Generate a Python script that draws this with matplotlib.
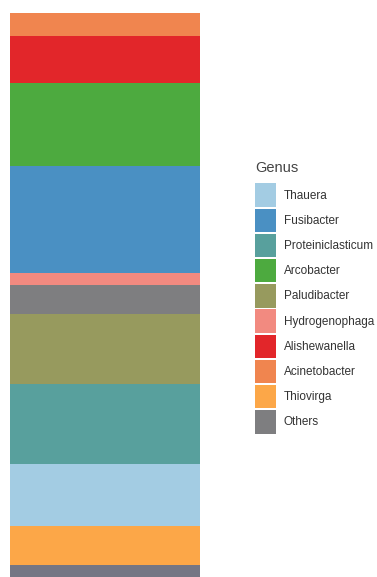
import matplotlib
matplotlib.use("Agg")
import matplotlib.pyplot as plt
from matplotlib.patches import Patch

plt.rcParams["font.family"] = ["Liberation Sans", "DejaVu Sans"]

# relative abundance (%) of one sample, stacked bottom -> top
genera = ["NA", "Thiovirga", "Thauera", "Proteiniclasticum", "Paludibacter",
          "Others", "Hydrogenophaga", "Fusibacter", "Arcobacter",
          "Alishewanella", "Acinetobacter"]
abund = [2.2, 6.9, 11.0, 14.2, 12.4, 5.1, 2.1, 19.0, 14.7, 8.3, 4.1]

legend_order = ["Thauera", "Fusibacter", "Proteiniclasticum", "Arcobacter",
                "Paludibacter", "Hydrogenophaga", "Alishewanella",
                "Acinetobacter", "Thiovirga", "Others"]

COLORS = {
    "Thauera": "#a3cce3", "Fusibacter": "#4a90c3", "Proteiniclasticum": "#58a09d",
    "Arcobacter": "#4daa3f", "Paludibacter": "#979a5e", "Hydrogenophaga": "#f28a80",
    "Alishewanella": "#e2262a", "Acinetobacter": "#f0854f", "Thiovirga": "#fca748",
    "Others": "#7e7e80", "NA": "#747684",
}

W, H = 377, 577
fig = plt.figure(figsize=(W / 100, H / 100), dpi=100)
ax = fig.add_axes([10 / W, 0, 190 / W, 564 / H])

bottom = 0
for g, v in zip(genera, abund):
    ax.bar(0, v, width=1, bottom=bottom, color=COLORS[g], linewidth=0)
    bottom += v
ax.set_xlim(-0.5, 0.5)
ax.set_ylim(0, sum(abund))
ax.axis("off")

handles = [Patch(facecolor=COLORS[g], edgecolor="none", label=g) for g in legend_order]
leg = fig.legend(handles=handles, title="Genus", loc="upper left",
                 bbox_to_anchor=(255 / W, 1 - 161 / H), frameon=False,
                 fontsize=8.5, title_fontsize=10.5, handlelength=1.8, handleheight=2.685,
                 labelspacing=0.144, handletextpad=0.65, borderaxespad=0, borderpad=0)
leg._legend_box.align = "left"
leg._legend_box.sep = 6
for t in leg.get_texts():
    t.set_color("#333333")
leg.get_title().set_color("#444444")

fig.savefig("out.png", dpi=100)
